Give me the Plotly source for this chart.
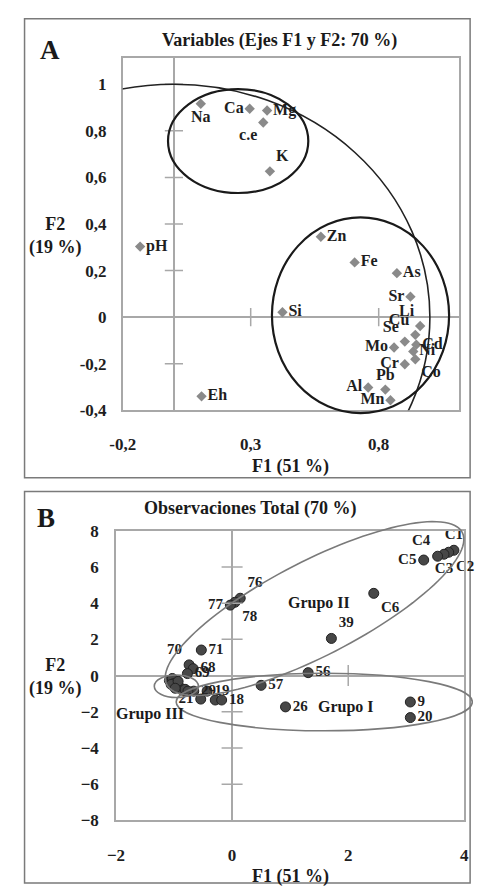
import numpy as np
import plotly.graph_objects as go

W, H = 478, 896
FONT = "Times New Roman, Liberation Serif, serif"

# ---------------- Panel A data (variables) ----------------
varA_names = ["Na", "Ca", "Mg", "c.e", "K", "pH", "Zn", "Fe", "As", "Sr", "Si", "Eh",
              "Li", "Cu", "Se", "Mo", "Cd", "Ni", "Cr", "Co", "Pb", "Al", "Mn"]
varA_f1 = [0.105, 0.296, 0.364, 0.349, 0.375, -0.132, 0.574, 0.706, 0.871, 0.924, 0.424, 0.108,
           0.962, 0.943, 0.902, 0.860, 0.947, 0.935, 0.902, 0.943, 0.826, 0.759, 0.846]
varA_f2 = [0.916, 0.895, 0.887, 0.836, 0.626, 0.303, 0.345, 0.235, 0.189, 0.088, 0.021, -0.340,
           -0.038, -0.076, -0.105, -0.130, -0.118, -0.147, -0.202, -0.181, -0.311, -0.302, -0.357]
varA_pos = ["bottom center", "middle left", "middle right", "bottom left", "top right", "middle right",
            "middle right", "middle right", "middle right", "middle left", "middle right", "middle right",
            "top left", "top left", "top left", "middle left", "middle right", "middle right",
            "middle left", "bottom right", "top center", "middle left", "middle left"]
A_xticks = [-0.2, 0.3, 0.8]
A_xticktext = ["-0,2", "0,3", "0,8"]
A_yticks = [-0.4, -0.2, 0, 0.2, 0.4, 0.6, 0.8, 1.0]
A_yticktext = ["-0,4", "-0,2", "0", "0,2", "0,4", "0,6", "0,8", "1"]

# ---------------- Panel B data (observations) ----------------
obs_labels = ["C1", "C2", "C3", "C4", "C5", "C6", "76", "78", "77", "39", "71", "70", "68", "69",
              "56", "57", "26", "9", "20", "29", "19", "21", "", "18",
              "", "", "", "", "", "", "", "", "", "", ""]
obs_f1 = [3.82, 3.73, 3.65, 3.54, 3.30, 2.44, 0.14, 0.05, -0.03, 1.71, -0.53, -0.74, -0.67, -0.77,
          1.31, 0.50, 0.92, 3.07, 3.07, -0.66, -0.43, -0.54, -0.29, -0.18,
          -1.08, -1.03, -1.00, -0.95, -0.90, -0.85, -1.05, -0.93, -0.81, -0.98, -0.76]
obs_f2 = [6.92, 6.81, 6.70, 6.59, 6.38, 4.54, 4.27, 4.05, 3.89, 2.05, 1.41, 0.59, 0.38, 0.11,
          0.16, -0.54, -1.73, -1.46, -2.32, -0.86, -0.86, -1.30, -1.35, -1.35,
          -0.27, -0.16, -0.43, -0.54, -0.65, -0.81, -0.49, -0.32, -0.76, -0.70, -0.86]
obs_pos = ["top center", "bottom right", "bottom center", "top left", "middle left", "bottom right",
           "top right", "bottom right", "middle left", "top right", "middle right", "top left",
           "middle right", "middle right", "middle right", "middle right", "middle right", "middle right",
           "middle right", "middle right", "middle right", "middle left", "middle right", "middle right"] + \
          ["middle right"] * 11
B_xticks = [-2, 0, 2, 4]
B_yticks = [-8, -6, -4, -2, 0, 2, 4, 6, 8]

# ---------------- layout geometry ----------------
def px_x(p):
    return p / W

def px_y(p):
    return 1 - p / H

A_xdom = [px_x(114), px_x(463)]
A_ydom = [px_y(410), px_y(50)]
A_xrange = [-0.2, 1.112]
A_yrange = [-0.4, 1.113]
B_xdom = [px_x(107), px_x(469)]
B_ydom = [px_y(829), px_y(533)]
B_xrange = [-2, 4]
B_yrange = [-8, 8]


def extend(rng, dom, newdom):
    k = (rng[1] - rng[0]) / (dom[1] - dom[0])
    return [rng[0] + (newdom[0] - dom[0]) * k, rng[0] + (newdom[1] - dom[0]) * k]


OA_xdom, OA_ydom = [0, 1], [0.47, 1]
OB_xdom, OB_ydom = [0, 1], [0, 0.47]

fig = go.Figure()

AX_GRAY = "#a8a8a8"
tickfont = dict(family=FONT, size=17, color="#1e1e1e", weight="bold")

# Panel A points
fig.add_trace(go.Scatter(
    x=varA_f1, y=varA_f2, mode="markers+text", text=varA_names, textposition=varA_pos,
    marker=dict(symbol="diamond", size=8, color="#8a8a8a"),
    textfont=dict(family=FONT, size=16, color="#1e1e1e", weight="bold"),
    xaxis="x", yaxis="y", showlegend=False, cliponaxis=False, hoverinfo="skip"))

# tick crosses on the zero lines of panel A
fig.add_trace(go.Scatter(x=[0] * 6, y=[-0.2, 0.2, 0.4, 0.6, 0.8, 1.0], mode="markers",
                         marker=dict(symbol="line-ew", size=13, line=dict(color=AX_GRAY, width=1.5)),
                         xaxis="x", yaxis="y", showlegend=False, hoverinfo="skip"))
fig.add_trace(go.Scatter(x=[0.3, 0.8], y=[0, 0], mode="markers",
                         marker=dict(symbol="line-ns", size=13, line=dict(color=AX_GRAY, width=1.5)),
                         xaxis="x", yaxis="y", showlegend=False, hoverinfo="skip"))

# Panel B points
fig.add_trace(go.Scatter(
    x=obs_f1, y=obs_f2, mode="markers+text", text=obs_labels, textposition=obs_pos,
    marker=dict(symbol="circle", size=10, color="#474747", line=dict(color="#222222", width=1)),
    textfont=dict(family=FONT, size=15, color="#1e1e1e", weight="bold"),
    xaxis="x2", yaxis="y2", showlegend=False, cliponaxis=False, hoverinfo="skip"))

fig.add_trace(go.Scatter(x=[0] * 6, y=[-6, -4, -2, 2, 4, 6], mode="markers",
                         marker=dict(symbol="line-ew", size=15, line=dict(color=AX_GRAY, width=1.5)),
                         xaxis="x2", yaxis="y2", showlegend=False, hoverinfo="skip"))
fig.add_trace(go.Scatter(x=[2], y=[0], mode="markers",
                         marker=dict(symbol="line-ns", size=15, line=dict(color=AX_GRAY, width=1.5)),
                         xaxis="x2", yaxis="y2", showlegend=False, hoverinfo="skip"))

# empty traces for the overlay (unclipped) subplots
fig.add_trace(go.Scatter(x=[], y=[], xaxis="x3", yaxis="y3", showlegend=False, hoverinfo="skip"))
fig.add_trace(go.Scatter(x=[], y=[], xaxis="x4", yaxis="y4", showlegend=False, hoverinfo="skip"))


def axis_common():
    return dict(showgrid=False, zeroline=True, zerolinecolor=AX_GRAY, zerolinewidth=1.5,
                showline=True, mirror=True, linecolor=AX_GRAY, linewidth=1.5,
                ticks="outside", tickcolor="rgba(0,0,0,0)", tickfont=tickfont, fixedrange=True)


fig.update_layout(
    width=W, height=H, autosize=False,
    margin=dict(l=0, r=0, t=0, b=0),
    paper_bgcolor="white", plot_bgcolor="rgba(0,0,0,0)",
    xaxis=dict(domain=A_xdom, range=A_xrange, anchor="y", tickvals=A_xticks, ticktext=A_xticktext,
               ticklen=18, **axis_common()),
    yaxis=dict(domain=A_ydom, range=A_yrange, anchor="x", tickvals=A_yticks, ticktext=A_yticktext,
               ticklen=11, **axis_common()),
    xaxis2=dict(domain=B_xdom, range=B_xrange, anchor="y2", tickvals=B_xticks,
                ticklen=18, **axis_common()),
    yaxis2=dict(domain=B_ydom, range=B_yrange, anchor="x2", tickvals=B_yticks,
                ticklen=12, **axis_common()),
    xaxis3=dict(domain=OA_xdom, range=extend(A_xrange, A_xdom, OA_xdom), anchor="y3", visible=False, fixedrange=True),
    yaxis3=dict(domain=OA_ydom, range=extend(A_yrange, A_ydom, OA_ydom), anchor="x3", visible=False, fixedrange=True),
    xaxis4=dict(domain=OB_xdom, range=extend(B_xrange, B_xdom, OB_xdom), anchor="y4", visible=False, fixedrange=True),
    yaxis4=dict(domain=OB_ydom, range=extend(B_yrange, B_ydom, OB_ydom), anchor="x4", visible=False, fixedrange=True),
)

shapes = []
# outer frames
shapes.append(dict(type="rect", xref="paper", yref="paper", x0=px_x(12), x1=px_x(475), y0=px_y(479), y1=px_y(10),
                   line=dict(color="#7a7a7a", width=1.5), layer="below"))
shapes.append(dict(type="rect", xref="paper", yref="paper", x0=px_x(12), x1=px_x(475), y0=px_y(893), y1=px_y(493),
                   line=dict(color="#7a7a7a", width=1.5), layer="below"))
# correlation circle (clipped to the plot area)
shapes.append(dict(type="circle", xref="x", yref="y", x0=-1, x1=1, y0=-1, y1=1,
                   line=dict(color="#222222", width=1.6)))
# panel A ellipses
shapes.append(dict(type="circle", xref="x3", yref="y3", x0=0.251 - 0.274, x1=0.251 + 0.274,
                   y0=0.756 - 0.223, y1=0.756 + 0.223, line=dict(color="#1a1a1a", width=2.2)))
shapes.append(dict(type="circle", xref="x3", yref="y3", x0=0.729 - 0.346, x1=0.729 + 0.346,
                   y0=0.008 - 0.42, y1=0.008 + 0.42, line=dict(color="#1a1a1a", width=2.2)))

# panel B ellipses (grey)
ELL = "#7a7a7a"
# Grupo II: rotated ellipse given by centre and two conjugate semi-diameters
gii_c = (1.42, 3.70)
gii_u = (2.546, 4.192)
gii_v = (-0.363, 2.340)
t = np.linspace(0, 2 * np.pi, 121)
ex = gii_c[0] + np.cos(t) * gii_u[0] + np.sin(t) * gii_v[0]
ey = gii_c[1] + np.cos(t) * gii_u[1] + np.sin(t) * gii_v[1]
path = "M " + " L ".join(f"{a:.4f},{b:.4f}" for a, b in zip(ex, ey)) + " Z"
shapes.append(dict(type="path", xref="x4", yref="y4", path=path, line=dict(color=ELL, width=1.6)))
# Grupo I
shapes.append(dict(type="circle", xref="x4", yref="y4", x0=1.587 - 2.55, x1=1.587 + 2.55,
                   y0=-1.46 - 1.59, y1=-1.46 + 1.59, line=dict(color=ELL, width=1.6)))
# Grupo III
shapes.append(dict(type="circle", xref="x4", yref="y4", x0=-0.96 - 0.38, x1=-0.96 + 0.38,
                   y0=-0.59 - 0.62, y1=-0.59 + 0.62, line=dict(color=ELL, width=1.6)))
fig.update_layout(shapes=shapes)

ann = []


def pann(text, x, y, size, **kw):
    ann.append(dict(text=text, x=px_x(x), y=px_y(y), xref="paper", yref="paper", showarrow=False,
                    xanchor="center", yanchor="middle",
                    font=dict(family=FONT, size=size, color="#1a1a1a", weight="bold"), **kw))


pann("A", 38, 42, 27)
pann("B", 34, 520, 27)
pann("Variables (Ejes F1 y F2: 70 %)", 277, 32, 18)
pann("Observaciones Total (70 %)", 247, 510, 18)
pann("F2<br>(19 %)", 44, 232, 18)
pann("F2<br>(19 %)", 44, 682, 18)
pann("F1 (51 %)", 288, 467, 18)
pann("F1 (51 %)", 288, 886, 18)

group_names = ["Grupo I", "Grupo II", "Grupo III"]
group_x = [1.97, 1.49, -1.41]
group_y = [-1.73, 4.0, -2.11]
for g, gx, gy in zip(group_names, group_x, group_y):
    ann.append(dict(text=g, x=gx, y=gy, xref="x2", yref="y2", showarrow=False,
                    font=dict(family=FONT, size=16, color="#1a1a1a", weight="bold")))

fig.update_layout(annotations=ann)

fig.write_html("out.html", config={"displayModeBar": False},
               post_script="document.body.style.margin='0';document.body.style.overflow='hidden';")
